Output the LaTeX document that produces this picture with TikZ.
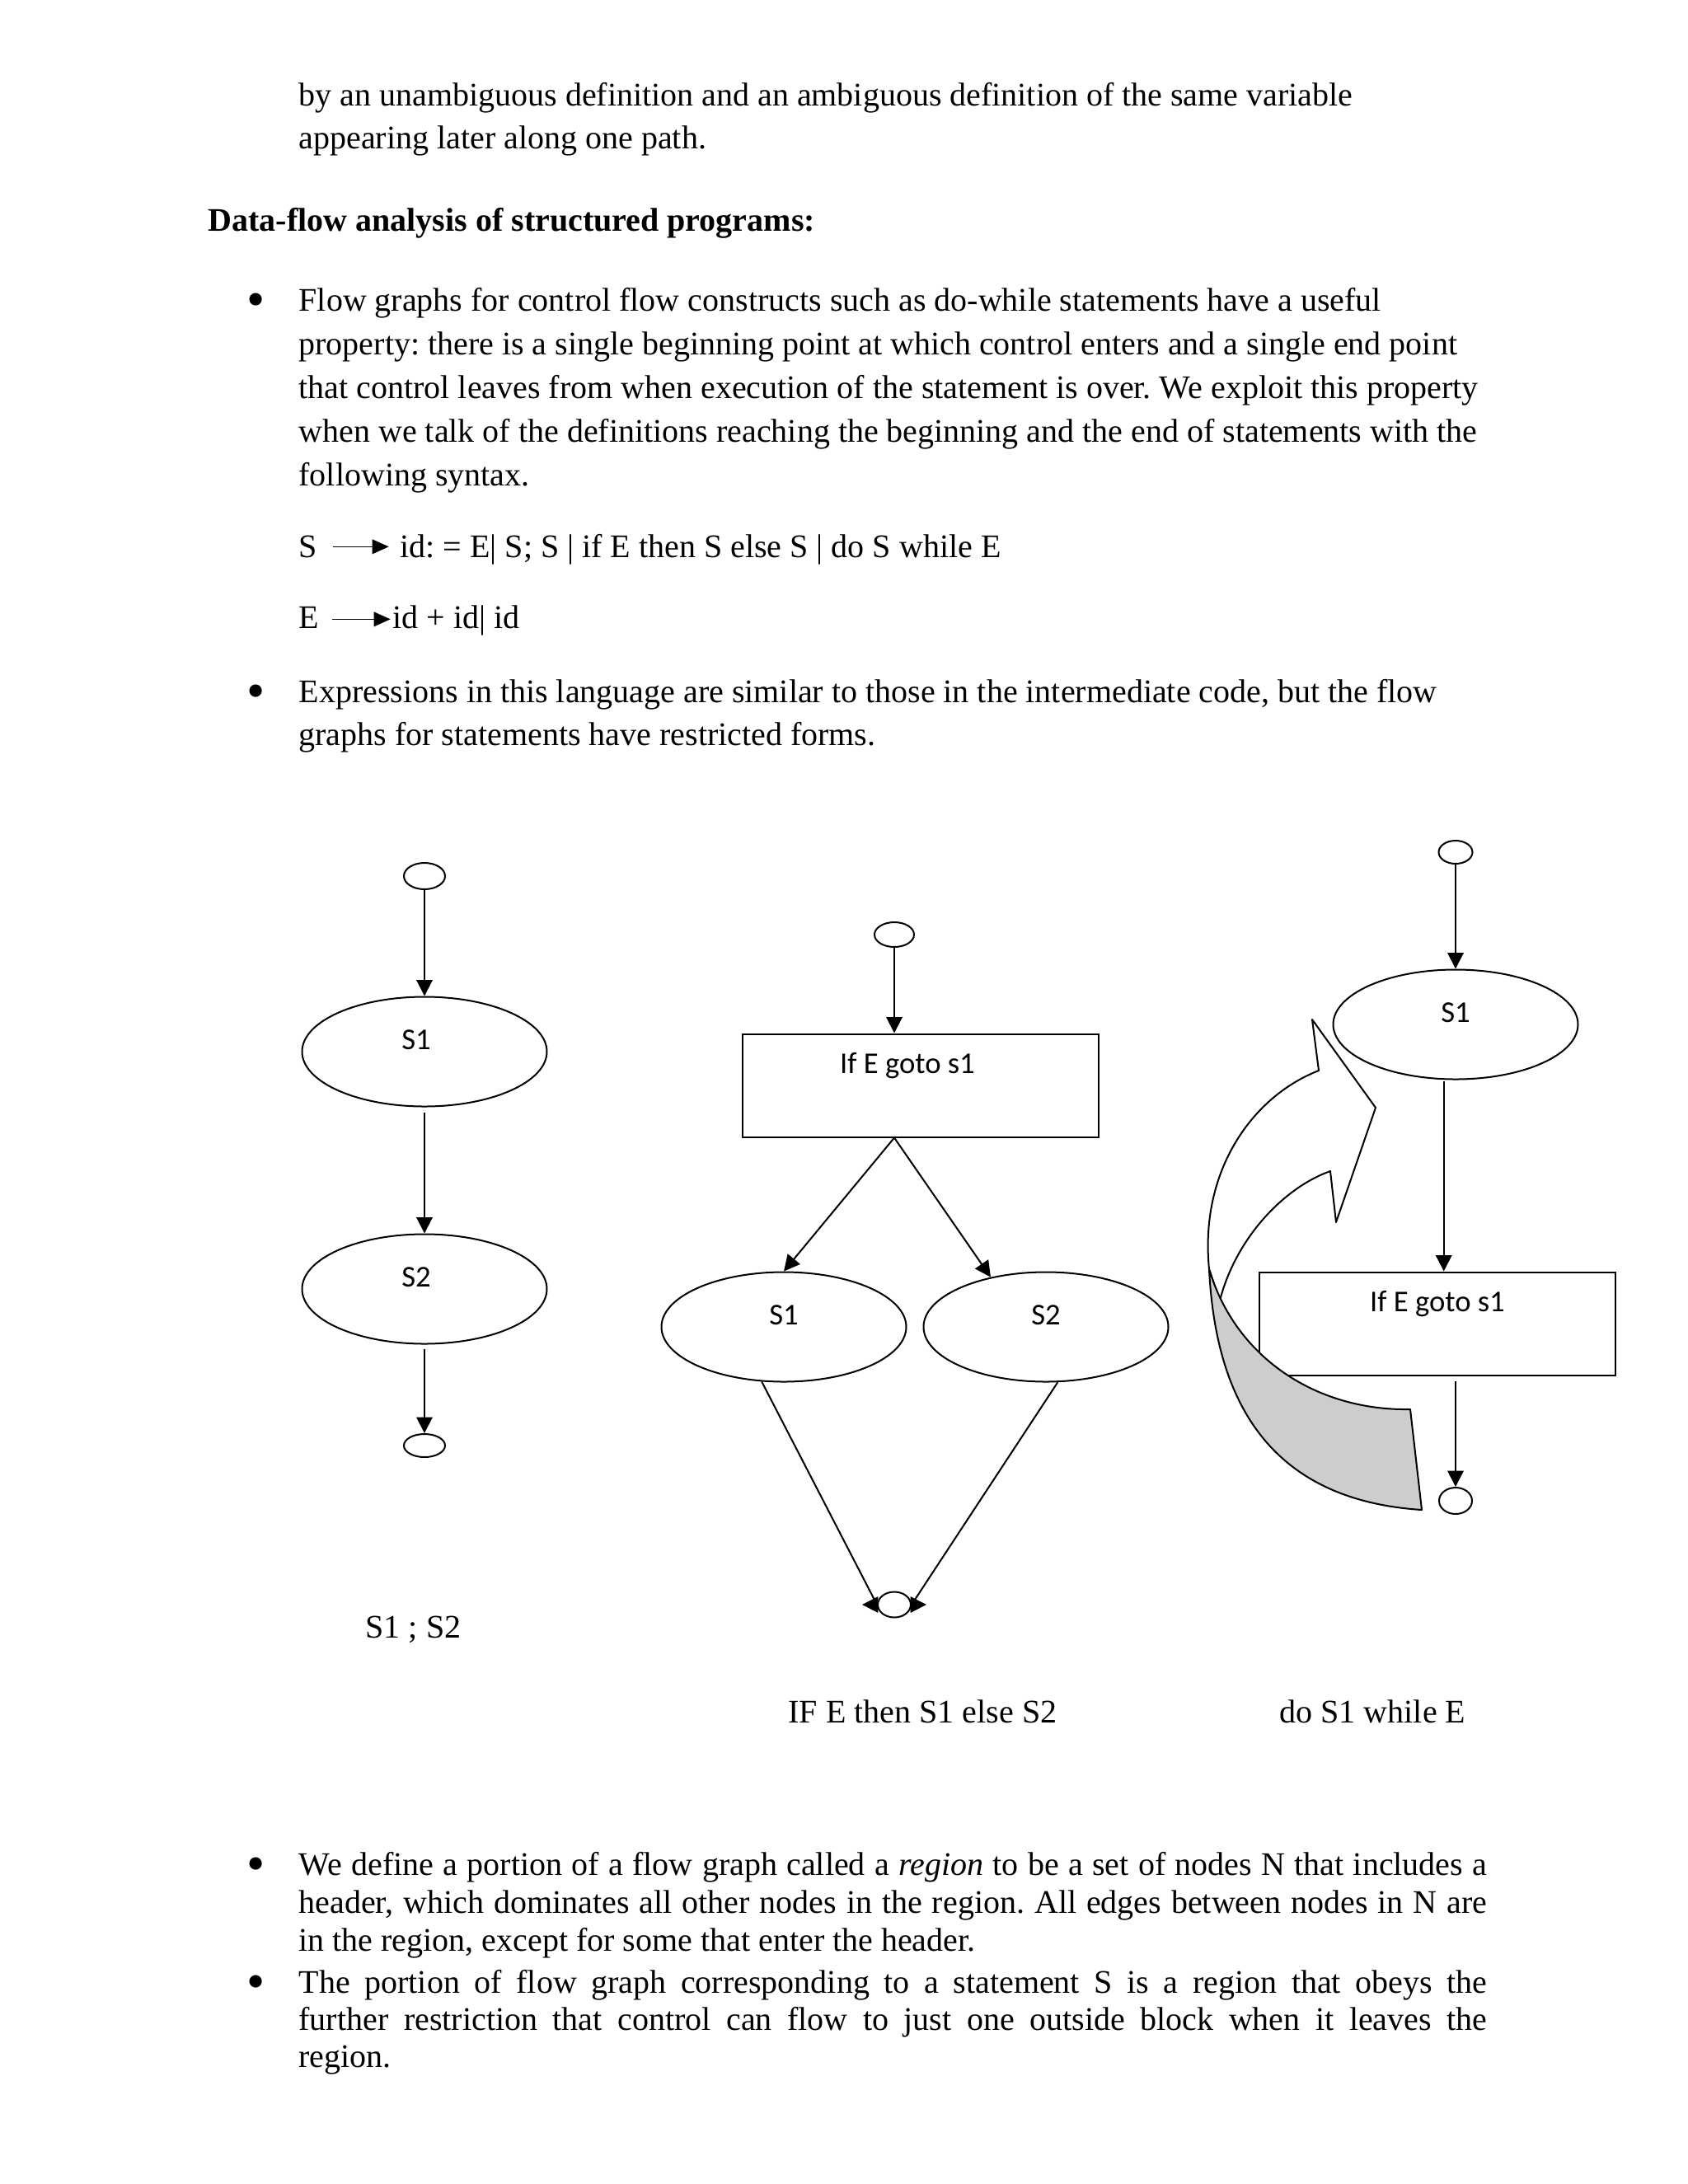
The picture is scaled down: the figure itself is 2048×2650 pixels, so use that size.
\documentclass[tikz,border=0pt]{standalone}
\usepackage{fontspec}
\setmainfont{Liberation Serif}
\newfontfamily\calibri{Carlito}
\usetikzlibrary{arrows.meta,shapes.geometric}
\definecolor{bandgray}{RGB}{205,205,205}
\newcommand{\pxu}{0.010542cm}
\newcommand{\jline}[1]{\makebox[15.2cm][s]{#1}}
\newcommand{\bigdot}{\raisebox{-2.2pt}{\textbullet}}
\frenchspacing
\tikzset{
	body/.style = {anchor=base west, inner sep=0pt, font=\fontsize{12}{14}\selectfont},
	dot/.style = {anchor=base, inner sep=0pt, font=\fontsize{19}{20}\selectfont},
	term/.style = {ellipse, draw=black, line width=0.6pt, inner sep=0pt},
	stmt/.style = {ellipse, draw=black, line width=0.6pt, inner sep=0pt, minimum width=297*\pxu, minimum height=133*\pxu, font=\calibri\fontsize{11}{13}\selectfont, text height=7pt, text depth=8.4pt},
	test/.style = {rectangle, draw=black, line width=0.6pt, inner sep=0pt, minimum width=432*\pxu, minimum height=125*\pxu, font=\calibri\fontsize{11}{13}\selectfont, text height=7pt, text depth=15.8pt},
	flow/.style = {-{Triangle[width=5.8pt,length=5.8pt]}, line width=0.6pt},
	prod/.style = {-{Triangle[width=5.3pt,length=6pt]}, line width=0.45pt},
	band/.style = {line width=0.6pt, line join=round},
}

\begin{document}
\begin{tikzpicture}[x=\pxu, y=-\pxu]
	\path[use as bounding box, fill=white] (0,0) rectangle (2048,2650);

	% text above the figures
	\node[body] (intro1) at (362,128) {by an unambiguous definition and an ambiguous definition of the same variable};
	\node[body] (intro2) at (362,180) {appearing later along one path.};
	\node[body, font=\fontsize{12}{14}\selectfont\bfseries] (head) at (252,280) {Data-flow analysis of structured programs:};

	\node[dot] (b1) at (311,377) {\bigdot};
	\node[body] (p1a) at (362,377) {Flow graphs for control flow constructs such as do-while statements have a useful};
	\node[body] (p1b) at (362,430) {property: there is a single beginning point at which control enters and a single end point};
	\node[body] (p1c) at (362,483) {that control leaves from when execution of the statement is over. We exploit this property};
	\node[body] (p1d) at (362,536) {when we talk of the definitions reaching the beginning and the end of statements with the};
	\node[body] (p1e) at (362,589) {following syntax.};

	\node[body] (lhsS) at (362,676) {S};
	\node[body] (rhsS) at (485,676) {id: = E| S; S | if E then S else S | do S while E};
	\draw[prod, shorten <=5.4pt, shorten >=4pt] ([yshift=3.8pt]lhsS.base east) -- ([yshift=3.8pt]rhsS.base west);
	\node[body] (lhsE) at (362,762) {E};
	\node[body] (rhsE) at (476,762) {id + id| id};
	\draw[prod, shorten <=4.7pt, shorten >=0.7pt] ([yshift=3.2pt]lhsE.base east) -- ([yshift=3.2pt]rhsE.base west);

	\node[dot] (b2) at (311,852) {\bigdot};
	\node[body] (p2a) at (362,852) {Expressions in this language are similar to those in the intermediate code, but the flow};
	\node[body] (p2b) at (362,904) {graphs for statements have restricted forms.};

	% S1 ; S2
	\node[term, minimum width=50*\pxu, minimum height=32*\pxu] (seqin) at (515,1063) {};
	\node[stmt] (seqs1) at (515,1276) {S1\hspace*{6pt}};
	\node[stmt] (seqs2) at (515,1564) {S2\hspace*{6pt}};
	\node[term, minimum width=50*\pxu, minimum height=28*\pxu] (seqout) at (515,1754) {};
	\draw[flow] (seqin) -- (seqs1);
	\draw[flow, shorten <=2pt] (seqs1) -- (seqs2);
	\draw[flow, shorten <=1.5pt] (seqs2) -- (seqout);
	\node[body] (seqcap) at (443,1987) {S1 ; S2};

	% IF E then S1 else S2
	\node[term, minimum width=48*\pxu, minimum height=30*\pxu] (ifin) at (1085,1134) {};
	\node[test] (iftest) at (1117,1317) {If E goto s1\hspace*{9.6pt}};
	\node[stmt] (ifs1) at (951,1610) {S1};
	\node[stmt] (ifs2) at (1269,1610) {S2};
	\node[term, minimum width=40*\pxu, minimum height=31*\pxu] (ifout) at (1085,1947) {};
	\coordinate (fork) at (ifin |- iftest.south);
	\draw[flow] (ifin) -- (ifin |- iftest.north);
	\draw[flow] (fork) -- (ifs1.north);
	\draw[flow] (fork) -- (ifs2.138);
	\draw[flow] (ifs1.248) -- (ifout.west) -- ++(-18,0);
	\draw[flow] (ifs2.282) -- (ifout.east) -- ++(18,0);
	\node[body] (ifcap) at (956,2090) {IF E then S1 else S2};

	% do S1 while E
	\node[term, minimum width=41*\pxu, minimum height=28*\pxu] (doin) at (1766,1034) {};
	\node[stmt] (dos1) at (1766,1243) {S1};
	\node[test] (dotest) at (1744,1606) {If E goto s1};
	\node[term, minimum width=40*\pxu, minimum height=32*\pxu] (doout) at (1766,1821) {};
	\draw[flow] (doin) -- (dos1);
	\draw[flow, shorten <=0.5pt] (dos1.258) -- (dos1.258 |- dotest.north);
	\draw[flow, shorten <=2pt] (doout |- dotest.south) -- (doout);
	% curved loop-back arrow
	\draw[band, fill=white] (1467,1540) .. controls (1455,1420) and (1520,1330) .. (1600,1299)
		-- (1592,1237) -- (1669,1344) -- (1621,1483) -- (1614,1421)
		.. controls (1560,1440) and (1500,1500) .. (1480,1578) -- cycle;
	\draw[band, fill=bandgray] (1711,1710) .. controls (1600,1712) and (1500,1650) .. (1467,1540)
		.. controls (1475,1700) and (1540,1820) .. (1725,1832) -- cycle;
	\node[body] (docap) at (1552,2090) {do S1 while E};

	% text below the figures
	\node[dot] (b3) at (311,2275) {\bigdot};
	\node[body] (p3a) at (362,2275) {\jline{We define a portion of a flow graph called a \textit{region} to be a set of nodes N that includes a}};
	\node[body] (p3b) at (362,2321) {\jline{header, which dominates all other nodes in the region. All edges between nodes in N are}};
	\node[body] (p3c) at (362,2367) {in the region, except for some that enter the header.};
	\node[dot] (b4) at (311,2418) {\bigdot};
	\node[body] (p4a) at (362,2418) {\jline{The portion of flow graph corresponding to a statement S is a region that obeys the}};
	\node[body] (p4b) at (362,2463) {\jline{further restriction that control can flow to just one outside block when it leaves the}};
	\node[body] (p4c) at (362,2508) {region.};
\end{tikzpicture}
\end{document}
